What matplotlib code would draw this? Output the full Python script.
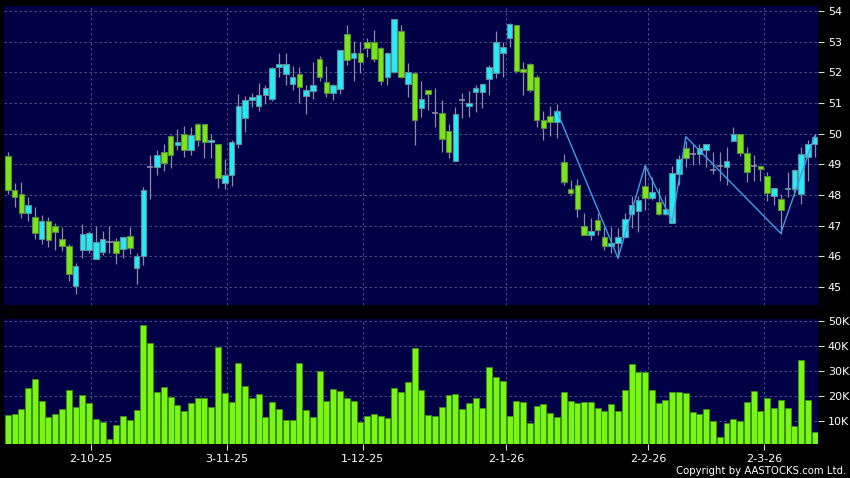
import numpy as np
import matplotlib
matplotlib.use('Agg')
import matplotlib.pyplot as plt

# daily OHLC
opens = [49.28, 48.16, 48.03, 47.42, 47.28, 46.56, 47.16, 46.98, 46.57, 46.33,
         45.02, 46.21, 46.21, 45.90, 46.14, 46.45, 46.50, 46.23, 46.66, 45.63,
         46.00, 48.92, 48.92, 49.40, 49.92, 49.63, 49.98, 49.47, 50.32, 50.32,
         49.72, 49.66, 48.39, 48.65, 49.66, 50.51, 51.10, 50.90, 51.25, 51.13,
         52.16, 51.93, 51.61, 51.93, 51.23, 51.40, 52.42, 51.67, 51.32, 51.47,
         53.25, 52.46, 52.62, 53.00, 53.00, 52.78, 51.86, 52.02, 53.33, 51.62,
         51.97, 50.82, 51.41, 50.66, 50.66, 50.10, 49.12, 51.10, 50.91, 51.37,
         51.37, 51.77, 51.97, 52.62, 53.11, 53.53, 52.12, 52.26, 51.86, 50.43,
         50.56, 50.38, 49.06, 48.19, 48.32, 47.00, 46.69, 47.18, 46.64, 46.33,
         46.42, 46.64, 47.38, 47.46, 48.30, 47.89, 47.78, 47.38, 47.10, 48.69,
         49.54, 49.35, 49.32, 49.48, 48.82, 48.93, 48.91, 49.75, 50.00, 49.38,
         48.93, 48.93, 48.61, 47.95, 47.87, 48.18, 48.20, 48.02, 49.24, 49.65]
highs = [49.39, 48.38, 48.42, 47.92, 47.60, 47.36, 47.29, 47.07, 46.94, 46.40,
         45.79, 47.05, 46.83, 46.99, 46.83, 46.99, 46.61, 46.64, 46.94, 46.12,
         48.27, 49.30, 49.47, 49.66, 49.97, 50.15, 50.25, 50.20, 50.36, 50.32,
         49.99, 49.66, 49.17, 49.79, 51.29, 51.21, 51.32, 51.65, 51.60, 52.16,
         52.62, 52.62, 52.20, 52.16, 51.59, 52.35, 52.53, 52.22, 51.62, 52.73,
         53.54, 53.03, 53.00, 53.11, 53.38, 52.84, 52.67, 53.73, 53.54, 52.29,
         52.02, 51.70, 51.41, 51.48, 51.10, 50.32, 50.86, 51.32, 51.40, 51.59,
         51.61, 52.24, 53.33, 53.00, 53.62, 53.53, 52.35, 52.29, 51.91, 50.73,
         50.91, 50.98, 49.34, 48.50, 48.51, 47.40, 47.24, 47.40, 46.97, 46.94,
         46.91, 47.40, 47.95, 47.95, 48.93, 48.60, 48.22, 47.97, 48.93, 49.29,
         49.76, 49.67, 49.67, 49.65, 49.40, 49.40, 49.56, 50.22, 50.00, 49.56,
         49.29, 48.93, 48.75, 48.22, 48.04, 48.75, 48.86, 49.56, 49.78, 49.98]
lows = [48.03, 47.60, 47.25, 47.16, 46.56, 46.40, 46.30, 46.20, 46.17, 45.19,
        44.78, 45.93, 46.12, 45.90, 46.04, 46.12, 45.74, 45.93, 46.07, 45.08,
        45.72, 47.88, 48.66, 48.77, 48.88, 49.45, 49.23, 49.29, 49.60, 49.20,
        49.20, 48.23, 48.20, 48.30, 49.53, 50.04, 50.86, 50.73, 50.95, 51.05,
        51.86, 51.59, 51.42, 51.00, 50.64, 51.12, 51.70, 51.18, 51.10, 51.29,
        52.24, 51.70, 51.97, 52.51, 52.35, 51.59, 51.59, 51.97, 51.80, 51.20,
        49.63, 50.55, 50.77, 50.21, 49.41, 49.20, 49.12, 50.50, 50.55, 50.72,
        50.83, 51.26, 51.80, 51.86, 52.82, 51.97, 51.26, 51.37, 50.23, 49.80,
        49.91, 49.85, 48.33, 48.00, 47.27, 46.69, 46.53, 46.69, 46.22, 46.11,
        45.93, 46.64, 46.91, 46.80, 47.51, 47.84, 47.35, 47.35, 47.10, 48.31,
        48.91, 48.96, 49.02, 48.91, 48.69, 48.47, 48.31, 49.75, 49.26, 48.42,
        48.47, 48.47, 47.79, 47.66, 46.73, 47.93, 47.98, 47.69, 48.47, 49.24]
closes = [48.16, 47.92, 47.42, 47.68, 46.75, 47.16, 46.54, 46.80, 46.33, 45.41,
          45.67, 46.72, 46.75, 46.46, 46.56, 46.45, 46.12, 46.64, 46.26, 46.00,
          48.16, 48.92, 49.29, 49.04, 49.30, 49.74, 49.47, 49.95, 49.79, 49.74,
          49.79, 48.55, 48.64, 49.73, 50.90, 51.10, 51.18, 51.26, 51.49, 52.13,
          52.27, 52.27, 51.86, 51.51, 51.42, 51.60, 51.86, 51.32, 51.60, 52.73,
          52.40, 52.62, 52.33, 52.78, 52.42, 51.70, 52.62, 53.73, 51.84, 52.02,
          50.45, 51.12, 51.28, 50.66, 49.82, 49.41, 50.63, 51.10, 51.00, 51.48,
          51.61, 52.16, 53.00, 52.82, 53.58, 52.05, 52.02, 51.42, 50.45, 50.18,
          50.38, 50.73, 48.43, 48.06, 47.53, 46.69, 46.83, 46.86, 46.33, 46.42,
          46.64, 47.20, 47.66, 47.82, 47.89, 48.08, 47.38, 47.53, 48.71, 49.18,
          49.21, 49.35, 49.52, 49.65, 48.82, 48.93, 49.10, 50.00, 49.38, 48.75,
          48.93, 48.85, 48.07, 48.22, 47.51, 48.22, 48.80, 49.32, 49.65, 49.89]
# volume in thousands
volumes = [12.4, 12.6, 14.7, 23.1, 26.8, 17.8, 11.4, 12.7, 14.6, 22.2,
           15.3, 20.4, 16.9, 10.5, 9.6, 2.7, 8.4, 12.0, 10.4, 14.2,
           48.5, 41.2, 21.5, 23.4, 19.7, 16.4, 13.8, 17.2, 19.1, 19.1,
           15.5, 39.7, 21.1, 17.7, 33.4, 23.9, 19.2, 20.8, 11.6, 17.6,
           14.5, 10.3, 10.3, 33.4, 14.3, 11.4, 30.1, 18.1, 22.8, 21.9,
           19.2, 17.8, 9.6, 11.9, 12.8, 11.9, 11.2, 23.0, 21.5, 25.7,
           39.1, 22.3, 12.2, 11.8, 15.5, 20.5, 20.6, 14.6, 17.0, 19.0,
           15.0, 31.5, 27.5, 26.0, 12.0, 18.0, 17.5, 9.0, 16.0, 16.5,
           13.0, 11.5, 21.6, 18.0, 17.0, 17.5, 17.5, 15.0, 14.0, 16.5,
           14.0, 22.5, 33.0, 29.5, 29.5, 22.5, 17.2, 18.5, 21.5, 21.5,
           21.0, 13.5, 12.5, 14.5, 10.0, 3.2, 9.0, 10.5, 10.0, 17.5,
           21.8, 14.0, 19.0, 15.0, 18.5, 15.0, 8.0, 34.5, 18.5, 5.5]

date_labels = ['2-10-25', '3-11-25', '1-12-25', '2-1-26', '2-2-26', '2-3-26']
date_pos = [12.2, 32.3, 52.35, 73.45, 94.45, 111.6]
price_ticks = [45, 46, 47, 48, 49, 50, 51, 52, 53, 54]
vol_ticks = [10, 20, 30, 40, 50]
vol_labels = ['10K', '20K', '30K', '40K', '50K']

# zigzag overlay
zz_idx = [81, 90, 94, 98, 100, 114, 119]
zz_val = [50.73, 45.94, 48.96, 47.13, 49.90, 46.75, 49.92]

BG = '#000046'
GRID = '#5a5a8e'
UP = '#26eaf5'
DOWN = '#7ae61a'
WICK = '#8c8ca4'

o = np.array(opens)
h = np.array(highs)
l = np.array(lows)
c = np.array(closes)
x = np.arange(len(o))

fig = plt.figure(figsize=(8.5, 4.78), dpi=100, facecolor='black')
ax = fig.add_axes([0.0047, 0.3619, 0.9577, 0.6255])
axv = fig.add_axes([0.0047, 0.0711, 0.9577, 0.2615])

for a in (ax, axv):
    a.set_facecolor(BG)
    for s in a.spines.values():
        s.set_visible(False)
    a.set_xlim(-0.56, 119.5)
    a.set_xticks(date_pos)
    a.grid(True, color=GRID, linestyle=(0, (3, 3)), linewidth=0.6)
    a.set_axisbelow(True)
    a.yaxis.tick_right()
    a.tick_params(axis='y', colors='#d8d8d8', labelcolor='white',
                  labelsize=8, length=4, width=0.8, pad=3)

# price panel
up = c > o
down = c < o
flat = c == o
ax.vlines(x, l, h, color=WICK, linewidth=0.9, zorder=2)
ax.bar(x[up], (c - o)[up], bottom=o[up], width=0.82, color=UP,
       edgecolor='#5e8e9c', linewidth=0.8, zorder=3)
ax.bar(x[down], (o - c)[down], bottom=c[down], width=0.82, color=DOWN,
       edgecolor='#5b8c3c', linewidth=0.8, zorder=3)
ax.hlines(c[flat], x[flat] - 0.45, x[flat] + 0.45, color=WICK,
          linewidth=1.2, zorder=3)
ax.plot(zz_idx, zz_val, color='#3d9fe6', linewidth=1.0, zorder=4)

ax.set_ylim(44.41, 54.16)
ax.set_yticks(price_ticks)
ax.set_yticklabels([str(p) for p in price_ticks])
ax.tick_params(axis='x', length=0, labelbottom=False)

# volume panel
axv.bar(x, volumes, width=0.88, color='#77f712', edgecolor='#3f8f18',
        linewidth=0.6, zorder=3)
axv.set_ylim(0.57, 50.95)
axv.set_yticks(vol_ticks)
axv.set_yticklabels(vol_labels)
axv.set_xticklabels(date_labels)
axv.tick_params(axis='x', colors='#d8d8d8', labelcolor='white',
                labelsize=8, length=4, width=0.8, pad=3)

fig.text(0.995, 0.004, 'Copyright by AASTOCKS.com Ltd.', color='white',
         fontsize=7.3, ha='right', va='bottom')

fig.savefig('out.png', dpi=100, facecolor='black')
